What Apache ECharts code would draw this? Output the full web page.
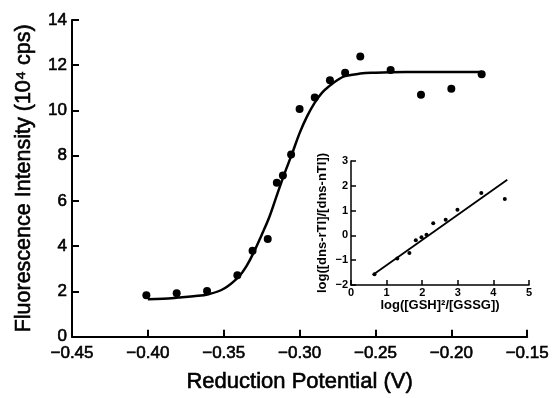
<!DOCTYPE html>
<html><head><meta charset="utf-8">
<script src="https://cdn.jsdelivr.net/npm/echarts@6/dist/echarts.min.js"></script>
<style>html,body{margin:0;padding:0;background:#fff}#c{width:552px;height:398px}</style>
</head><body><div id="c"></div>
<script>
// Main plot: measured points
var mainX = [-0.401,-0.381,-0.361,-0.341,-0.331,-0.321,-0.315,-0.311,-0.3056,-0.300,-0.290,-0.280,-0.270,-0.260,-0.240,-0.220,-0.200,-0.180];
var mainY = [1.83,1.92,2.02,2.72,3.80,4.32,6.81,7.13,8.05,10.07,10.57,11.34,11.67,12.39,11.79,10.70,10.96,11.60];
// Main plot: fitted curve
var curveX = [-0.40,-0.39,-0.38,-0.37,-0.36,-0.35,-0.34,-0.335,-0.33,-0.325,-0.32,-0.315,-0.31,-0.305,-0.30,-0.295,-0.29,-0.285,-0.28,-0.275,-0.27,-0.26,-0.25,-0.24,-0.22,-0.20,-0.18];
var curveY = [1.66,1.68,1.73,1.79,1.88,2.12,2.66,3.12,3.76,4.50,5.28,6.25,7.20,8.08,9.00,9.75,10.35,10.80,11.10,11.35,11.52,11.63,11.67,11.69,11.70,11.70,11.70];
// Inset: points and regression line
var insetX = [0.66,1.30,1.64,1.82,1.98,2.12,2.31,2.66,2.99,3.66,4.32];
var insetY = [-1.57,-0.93,-0.71,-0.20,-0.07,0.03,0.49,0.63,1.03,1.71,1.47];
var fitX = [0.61,4.39];
var fitY = [-1.60,2.24];
// Tick values
var mainXTicks = [-0.45,-0.40,-0.35,-0.30,-0.25,-0.20,-0.15];
var mainYTicks = [0,2,4,6,8,10,12,14];
var insetXTicks = [0,1,2,3,4,5];
var insetYTicks = [-2,-1,0,1,2,3];

function zip(a,b){return a.map(function(v,i){return [v,b[i]];});}
var FONT = 'Liberation Sans, Arial, Helvetica, sans-serif';
var chart = echarts.init(document.getElementById('c'));
function fmtX(v){var s=Math.abs(v).toFixed(2);return (v<-1e-9?'\u2212':'')+s;}
function fmtI(v){var r=Math.round(v);return (r<0?'\u2212':'')+Math.abs(r);}
var heavy = {textBorderColor:'#000',textBorderWidth:0.6};

chart.setOption({
  animation:false,
  backgroundColor:'#fff',
  grid:[
    {left:72,right:22,top:20,bottom:57},
    {left:351,right:23,top:161,bottom:113}
  ],
  xAxis:[
    {gridIndex:0,type:'value',min:mainXTicks[0],max:mainXTicks[mainXTicks.length-1],interval:0.05,
     name:'Reduction Potential (V)',nameLocation:'middle',nameGap:34,
     nameTextStyle:Object.assign({fontFamily:FONT,fontSize:22,color:'#000'},heavy),
     axisLine:{onZero:false,lineStyle:{color:'#000',width:2}},
     axisTick:{inside:true,length:7,lineStyle:{color:'#000',width:2}},
     axisLabel:Object.assign({formatter:fmtX,fontFamily:FONT,fontSize:17,color:'#000',margin:8},heavy),
     splitLine:{show:false}},
    {gridIndex:1,type:'value',min:insetXTicks[0],max:insetXTicks[insetXTicks.length-1],interval:1,
     name:'log([GSH]\u00b2/[GSSG])',nameLocation:'middle',nameGap:12,
     nameTextStyle:{fontFamily:FONT,fontSize:13,fontWeight:'bold',color:'#000'},
     axisLine:{onZero:false,lineStyle:{color:'#000',width:1.5}},
     axisTick:{inside:true,length:5,lineStyle:{color:'#000',width:1.5}},
     axisLabel:{formatter:fmtI,fontFamily:FONT,fontSize:11,fontWeight:'bold',color:'#000',margin:2},
     splitLine:{show:false}}
  ],
  yAxis:[
    {gridIndex:0,type:'value',min:mainYTicks[0],max:mainYTicks[mainYTicks.length-1],interval:2,
     name:'Fluorescence Intensity (10\u2074 cps)',nameLocation:'middle',nameGap:37,
     nameTextStyle:Object.assign({fontFamily:FONT,fontSize:21.5,color:'#000'},heavy),
     axisLine:{show:true,onZero:false,lineStyle:{color:'#000',width:2}},
     axisTick:{show:true,inside:true,length:7,lineStyle:{color:'#000',width:2}},
     axisLabel:Object.assign({fontFamily:FONT,fontSize:17,color:'#000',margin:5},heavy),
     splitLine:{show:false}},
    {gridIndex:1,type:'value',min:insetYTicks[0],max:insetYTicks[insetYTicks.length-1],interval:1,
     name:'log([dns-rTI]/[dns-nTI])',nameLocation:'middle',nameGap:22,
     nameTextStyle:{fontFamily:FONT,fontSize:13,fontWeight:'bold',color:'#000'},
     axisLine:{show:true,onZero:false,lineStyle:{color:'#000',width:1.5}},
     axisTick:{show:true,inside:true,length:5,lineStyle:{color:'#000',width:1.5}},
     axisLabel:{formatter:fmtI,fontFamily:FONT,fontSize:11,fontWeight:'bold',color:'#000',margin:3},
     splitLine:{show:false}}
  ],
  series:[
    {type:'line',xAxisIndex:0,yAxisIndex:0,data:zip(curveX,curveY),smooth:0.4,showSymbol:false,
     lineStyle:{color:'#000',width:2.5},z:2},
    {type:'scatter',xAxisIndex:0,yAxisIndex:0,data:zip(mainX,mainY),symbol:'circle',symbolSize:8,
     itemStyle:{color:'#000',opacity:1},z:3},
    {type:'line',xAxisIndex:1,yAxisIndex:1,data:zip(fitX,fitY),showSymbol:false,
     lineStyle:{color:'#000',width:1.8},z:2},
    {type:'scatter',xAxisIndex:1,yAxisIndex:1,data:zip(insetX,insetY),symbol:'circle',symbolSize:4,
     itemStyle:{color:'#000',opacity:1},z:3}
  ]
});
</script></body></html>
